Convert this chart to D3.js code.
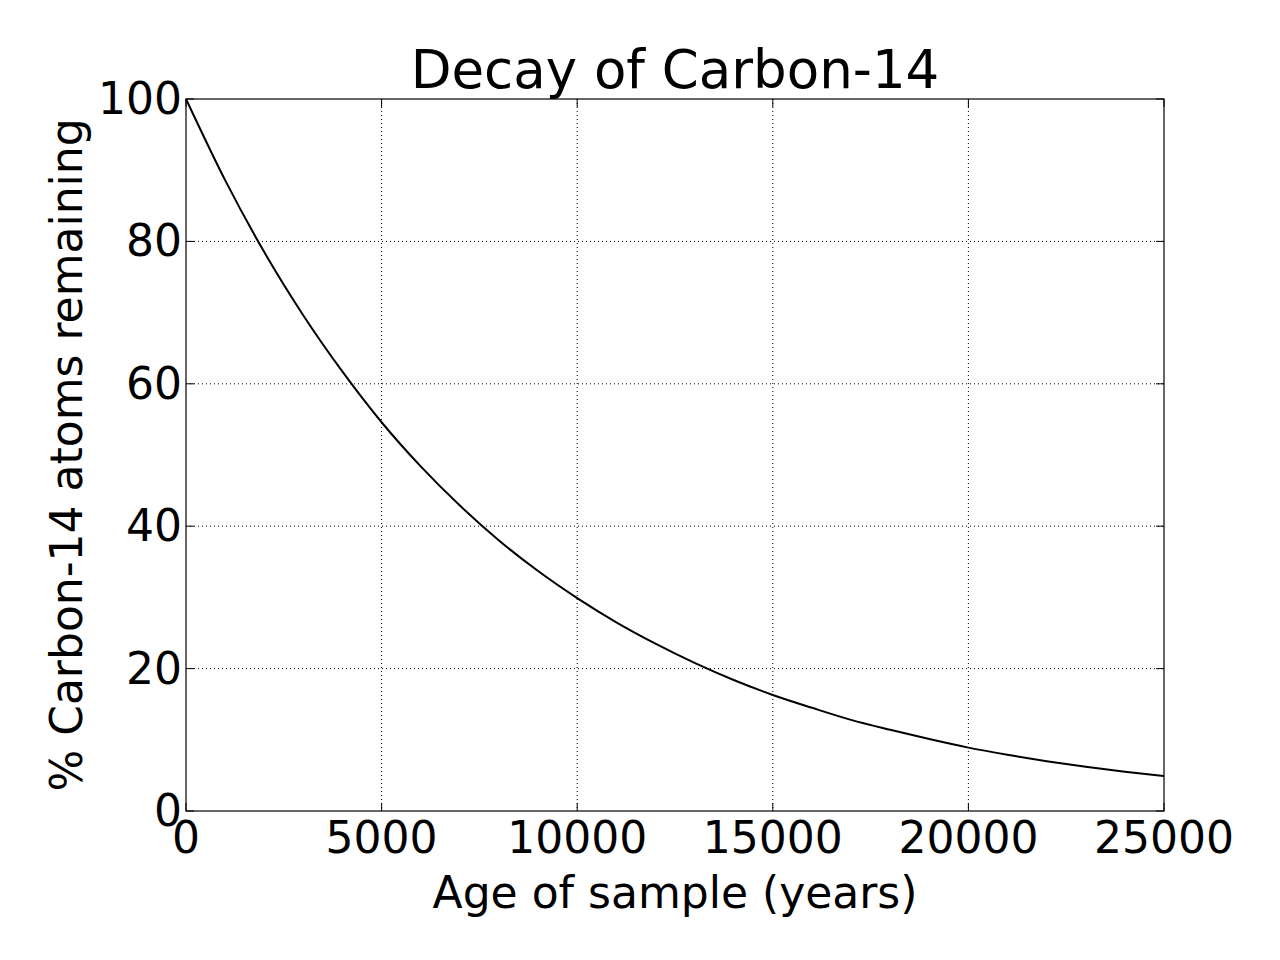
<!DOCTYPE html>
<html><head><meta charset="utf-8">
<script src="https://cdn.jsdelivr.net/npm/d3@7"></script>
<style>body{margin:0;background:#fff}svg{display:block}text{font-family:"DejaVu Sans",sans-serif;fill:#000}</style>
</head><body><svg id="chart" width="1280" height="960"></svg>
<script>
// age of sample (years) and % remaining
const years = [0,1000,2000,3000,4000,5000,6000,7000,8000,9000,10000,11000,12000,13000,14000,15000,16000,17000,18000,19000,20000,21000,22000,23000,24000,25000];
const remaining = [100,88.6,78.5,69.6,61.7,54.6,48.4,42.9,38.0,33.7,29.9,26.5,23.5,20.8,18.4,16.3,14.5,12.8,11.4,10.1,8.9,7.9,7.0,6.2,5.5,4.9];
const xTicks = [0,5000,10000,15000,20000,25000];
const yTicks = [0,20,40,60,80,100];

const L = 186, R = 1164, T = 99, B = 811;
const svg = d3.select("#chart");
const x = d3.scaleLinear().domain([0,25000]).range([L,R]);
const y = d3.scaleLinear().domain([0,100]).range([B,T]);

// grid
svg.append("g").selectAll("line").data(xTicks.slice(1,-1)).enter().append("line")
  .attr("x1",d=>x(d)).attr("x2",d=>x(d)).attr("y1",T).attr("y2",B)
  .attr("stroke","#000").attr("stroke-width",1).attr("stroke-dasharray","1,3");
svg.append("g").selectAll("line").data(yTicks.slice(1,-1)).enter().append("line")
  .attr("y1",d=>y(d)).attr("y2",d=>y(d)).attr("x1",L).attr("x2",R)
  .attr("stroke","#000").attr("stroke-width",1).attr("stroke-dasharray","1,3");

// ticks inside on all sides
const tk = svg.append("g").attr("stroke","#000").attr("stroke-width",1);
xTicks.forEach(d=>{
  tk.append("line").attr("x1",x(d)).attr("x2",x(d)).attr("y1",B).attr("y2",B-8);
  tk.append("line").attr("x1",x(d)).attr("x2",x(d)).attr("y1",T).attr("y2",T+8);
});
yTicks.forEach(d=>{
  tk.append("line").attr("y1",y(d)).attr("y2",y(d)).attr("x1",L).attr("x2",L+8);
  tk.append("line").attr("y1",y(d)).attr("y2",y(d)).attr("x1",R).attr("x2",R-8);
});

svg.append("path").datum(years.map((t,i)=>[t,remaining[i]]))
  .attr("fill","none").attr("stroke","#000").attr("stroke-width",2)
  .attr("d",d3.line().x(d=>x(d[0])).y(d=>y(d[1])).curve(d3.curveMonotoneX));

svg.append("rect").attr("x",L).attr("y",T).attr("width",R-L).attr("height",B-T)
  .attr("fill","none").attr("stroke","#000").attr("stroke-width",1.2);

svg.append("g").selectAll("text").data(xTicks).enter().append("text")
  .attr("x",d=>x(d)).attr("y",B+42).attr("text-anchor","middle").attr("font-size",44).text(d=>d);
svg.append("g").selectAll("text").data(yTicks).enter().append("text")
  .attr("x",L-4).attr("y",d=>y(d)+15).attr("text-anchor","end").attr("font-size",44).text(d=>d);

svg.append("text").attr("x",(L+R)/2).attr("y",88).attr("text-anchor","middle").attr("font-size",53).text("Decay of Carbon-14");
svg.append("text").attr("x",(L+R)/2).attr("y",908).attr("text-anchor","middle").attr("font-size",44).text("Age of sample (years)");
svg.append("text").attr("transform",`translate(82,${(T+B)/2}) rotate(-90)`).attr("text-anchor","middle").attr("font-size",44).text("% Carbon-14 atoms remaining");
</script></body></html>
